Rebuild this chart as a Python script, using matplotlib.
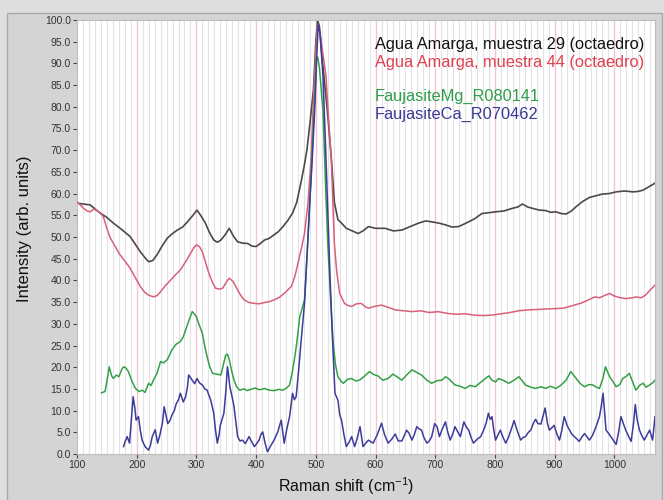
import matplotlib
matplotlib.use("Agg")
import matplotlib.pyplot as plt
from matplotlib.patches import Rectangle
from matplotlib.ticker import MultipleLocator, FormatStrFormatter

plt.rcParams['font.family'] = ['Liberation Sans', 'DejaVu Sans']

# ---------------- data ----------------
black_x = [100,110,122,136,150,161,175,189,206,214,220,227,234,242,251,260,268,277,285,293,
           301,308,315,322,329,335,341,348,355,362,369,377,386,393,400,407,414,422,430,437,
           445,453,461,468,475,480,485,490,496,500,503,506,510,515,520,526,531,537,543,551,
           561,571,580,588,600,616,630,644,658,672,684,694,706,717,728,739,747,756,767,778,
           790,801,815,829,838,846,855,863,874,885,893,902,911,919,928,936,947,958,969,980,
           991,1003,1017,1031,1040,1048,1058,1068]
black_y = [57.8,57.6,57.4,55.8,54.5,53.2,51.7,50.1,46.6,45.2,44.3,44.6,45.9,47.8,49.7,50.8,51.6,52.3,53.5,54.8,
           56.2,54.8,53.2,51.0,49.3,48.8,49.3,50.5,52.0,50.2,48.9,48.6,48.5,47.9,47.8,48.5,49.3,49.7,50.5,51.2,
           52.4,53.8,55.5,58.0,62.5,66.0,70.0,76.0,84.0,95.0,100.0,98.5,92.0,85.0,78.0,68.0,58.0,54.0,53.2,52.0,
           51.4,50.8,51.5,52.4,52.0,52.0,51.4,51.6,52.4,53.2,53.7,53.5,53.2,52.8,52.3,52.4,52.9,53.5,54.3,55.4,
           55.6,55.8,56.0,56.6,56.9,57.6,56.9,56.6,56.2,56.1,55.7,55.8,55.4,55.3,56.0,57.0,58.2,59.1,59.5,59.9,
           60.0,60.4,60.6,60.4,60.5,60.8,61.6,62.4]

red_x = [100,106,111,117,122,128,133,139,144,150,156,164,172,180,189,197,206,213,220,228,
         234,240,248,257,265,273,282,290,296,300,305,310,316,321,327,332,338,344,350,355,
         361,366,373,380,388,397,405,414,422,430,439,447,453,459,465,470,476,481,487,492,
         496,500,503,507,512,517,521,526,531,535,540,548,554,560,568,576,582,588,598,610,
         621,633,647,661,675,690,705,720,735,750,765,780,795,810,825,840,855,870,885,900,
         915,930,945,958,967,975,985,992,1000,1010,1020,1030,1036,1045,1052,1060,1068]
red_y = [58.1,57.3,56.6,56.0,55.8,56.4,56.2,55.5,54.7,52.0,49.7,47.8,45.9,44.5,42.8,40.8,38.6,37.3,36.6,36.2,
         36.5,37.4,38.8,40.1,41.3,42.4,44.3,46.2,47.6,48.2,47.8,46.6,43.8,41.6,39.5,38.2,38.0,38.2,39.6,40.5,
         39.8,38.6,36.8,35.5,34.9,34.7,34.6,34.9,35.1,35.5,36.1,37.0,37.8,38.6,41.0,43.9,47.5,50.8,58.0,68.0,
         82.0,93.0,99.0,97.0,92.0,87.0,78.0,67.7,48.5,42.0,37.0,34.7,34.2,34.0,34.6,34.7,34.0,33.6,34.0,34.3,
         33.8,33.2,33.0,32.8,33.0,32.6,32.8,32.4,32.2,32.3,32.0,31.9,32.0,32.3,32.6,33.0,33.2,33.3,33.4,33.5,
         33.6,34.2,34.8,35.6,36.2,36.0,36.6,37.0,36.4,36.0,35.8,36.0,36.2,36.0,36.6,37.8,38.9]

green_x = [141,147,151,154,158,161,166,170,175,178,182,186,192,198,204,209,214,220,224,228,
           234,240,245,251,255,259,266,273,278,282,288,293,297,300,305,310,314,318,322,327,
           334,341,345,349,352,355,359,363,367,372,380,385,391,398,406,414,422,430,438,445,
           451,456,460,464,468,473,477,481,487,492,497,501,503,506,509,512,516,520,525,529,
           533,537,542,546,553,560,567,574,582,590,597,604,612,621,629,636,644,652,661,669,
           677,686,694,703,711,717,722,728,733,742,750,758,767,775,784,790,795,801,806,815,
           823,832,840,846,851,860,868,877,885,893,902,910,919,927,936,943,950,957,964,970,
           975,981,985,989,992,998,1003,1009,1014,1020,1025,1030,1036,1042,1048,1053,1059,1064,1068]
green_y = [14.1,14.4,17.5,20.1,18.0,17.4,18.2,17.8,19.5,20.1,19.8,19.0,16.8,15.1,14.4,14.7,14.2,16.3,15.8,17.0,
           18.6,21.3,21.0,21.7,22.8,24.0,25.3,25.9,27.0,28.6,31.0,32.8,32.2,31.6,29.6,27.8,24.8,22.4,20.2,18.6,
           18.4,18.2,20.5,22.8,23.0,21.7,19.2,17.0,15.6,14.7,15.0,14.6,14.9,15.2,14.8,15.1,14.7,14.6,14.9,14.7,
           15.2,15.9,18.5,21.7,25.5,31.6,33.5,35.5,50.0,63.9,79.0,90.8,91.5,89.0,84.0,79.0,63.0,48.5,35.0,25.5,
           20.5,17.8,16.8,16.3,17.2,17.4,16.8,17.1,18.0,19.0,18.3,18.0,17.0,17.4,18.4,17.8,17.0,18.2,19.4,18.8,
           18.2,17.0,16.3,16.9,17.0,17.8,17.4,16.6,15.9,15.6,15.1,15.8,15.5,16.4,17.4,18.0,17.0,16.6,17.4,16.9,
           16.3,17.0,17.8,16.8,15.9,15.4,15.1,15.5,15.1,15.6,15.1,15.8,17.0,19.0,17.4,16.2,15.5,16.0,15.9,15.4,
           15.1,17.5,20.1,18.8,17.8,16.6,15.5,16.0,17.4,17.9,18.6,16.8,14.7,15.8,16.3,15.4,15.9,16.4,17.0]

blue_x = [178,181,184,188,191,194,197,199,203,206,209,214,220,223,226,231,235,239,243,246,
          249,252,256,259,263,266,270,273,278,282,285,287,290,293,297,301,305,310,314,318,
          321,324,329,332,335,338,340,343,346,349,352,354,356,360,363,366,369,373,377,382,
          388,392,397,401,405,408,411,415,419,424,430,436,442,445,447,451,456,461,464,467,
          471,475,481,485,489,494,498,501,504,507,510,512,516,520,524,527,530,532,537,540,
          543,547,551,556,560,565,569,574,579,583,588,596,603,610,615,621,627,633,638,644,
          648,652,656,661,665,669,673,677,681,686,690,694,699,703,707,711,717,721,725,729,
          733,738,742,748,752,756,760,764,770,776,781,785,789,792,795,798,801,805,809,813,
          818,823,828,832,837,843,847,851,856,860,864,868,872,877,881,884,888,891,895,899,
          904,908,912,916,921,925,929,933,937,941,946,950,954,958,963,967,971,975,978,981,
          984,986,990,994,999,1003,1007,1011,1015,1019,1024,1028,1032,1035,1038,1042,1046,1050,1055,1059,
          1064,1068]
blue_y = [1.7,3.0,4.0,2.5,8.0,13.2,10.5,7.8,8.6,5.5,3.2,1.7,0.9,2.0,4.0,5.6,2.5,4.5,7.1,10.9,
          9.0,7.0,7.8,9.0,10.0,11.5,12.5,14.0,12.0,13.2,15.5,18.2,17.6,17.0,16.2,17.4,16.4,15.9,15.0,14.7,
          13.5,12.4,9.4,5.5,2.5,4.5,6.6,8.0,9.4,14.0,20.1,18.0,15.5,13.0,10.9,7.5,4.0,3.0,3.2,2.4,
          4.0,3.0,1.7,2.4,3.2,4.5,5.1,2.5,0.5,1.8,3.2,5.0,7.8,4.5,2.5,5.5,8.6,14.0,12.5,13.2,
          19.0,25.5,34.7,45.0,56.0,68.0,79.0,90.0,99.0,97.0,91.0,87.0,72.0,56.0,40.0,29.3,20.0,14.0,12.4,9.0,
          7.8,4.5,1.7,2.8,4.0,1.7,3.5,6.3,1.7,2.4,3.2,2.5,4.5,7.1,4.5,2.5,3.4,4.6,3.0,3.0,
          4.2,5.5,4.8,3.2,4.5,6.3,5.8,5.5,3.8,2.5,3.0,4.0,7.0,6.3,4.0,5.5,7.4,5.0,3.2,4.5,
          6.3,5.0,4.0,7.4,6.2,5.5,3.8,2.5,3.4,4.0,5.5,7.0,9.4,8.0,8.6,5.5,3.2,4.4,5.5,4.0,
          2.5,4.0,6.0,7.7,5.5,3.2,3.8,4.0,5.0,5.5,7.0,8.0,7.0,6.9,9.0,10.6,7.0,5.5,6.0,6.6,
          4.5,3.2,5.5,8.6,6.5,5.5,4.5,4.0,3.5,2.9,4.0,4.7,4.0,3.2,4.2,5.5,7.0,8.6,11.0,14.0,
          9.0,5.5,4.8,4.0,3.0,2.2,5.0,8.6,7.0,5.5,4.0,2.9,7.0,11.4,8.0,5.5,4.2,3.2,4.5,5.5,
          3.2,8.6]

labels = ["Agua Amarga, muestra 29 (octaedro)",
          "Agua Amarga, muestra 44 (octaedro)",
          "FaujasiteMg_R080141",
          "FaujasiteCa_R070462"]
label_colors = ["#111111", "#e0404e", "#2e9e4a", "#3a3a96"]
line_colors = ["#4a4a4a", "#d8607a", "#33a048", "#3c3c9a"]

x_ticks = [100, 200, 300, 400, 500, 600, 700, 800, 900, 1000]

# ---------------- figure ----------------
fig = plt.figure(figsize=(6.64, 5.0), dpi=100, facecolor="#dedede")
fig.patches.append(Rectangle((7 / 664, -0.01), 655 / 664, 1 - 13 / 500 + 0.01,
                             transform=fig.transFigure, facecolor="#d4d4d4",
                             edgecolor="#a9a9a9", linewidth=1.0, zorder=-10))
ax = fig.add_axes([77 / 664, 1 - 454 / 500, (655 - 77) / 664, (454 - 20) / 500])
ax.set_facecolor("white")

ax.set_xlim(100, 1068)
ax.set_ylim(0, 100)

# grid: minor every 10, pink every 100
for gx in range(110, 1068, 10):
    if gx % 100 == 0:
        ax.axvline(gx, color="#f3c4d2", lw=1.0, zorder=0.6)
    else:
        ax.axvline(gx, color="#e3e3e6", lw=0.8, zorder=0.5)

ax.plot(black_x, black_y, color=line_colors[0], lw=1.2, zorder=2)
ax.plot(red_x, red_y, color=line_colors[1], lw=1.1, zorder=3)
ax.plot(green_x, green_y, color=line_colors[2], lw=1.1, zorder=4)
ax.plot(blue_x, blue_y, color=line_colors[3], lw=1.1, zorder=5)

ax.set_xticks(x_ticks)
ax.yaxis.set_major_locator(MultipleLocator(5))
ax.yaxis.set_major_formatter(FormatStrFormatter("%.1f"))
ax.tick_params(axis="both", labelsize=7.5, colors="#444444", length=3, width=0.8,
               labelcolor="#333333", pad=1.5)

for s in ax.spines.values():
    s.set_color("#bdbdbd")
    s.set_linewidth(0.8)

ax.set_ylabel("Intensity (arb. units)", fontsize=12, color="#111111")
ax.yaxis.set_label_coords(-0.078, 0.52)
ax.set_xlabel(r"Raman shift (cm$^{\mathregular{-1}}$)", fontsize=11.5, color="#111111")
ax.xaxis.set_label_coords(0.465, -0.05)

ys = [44, 63, 96, 114]
for lab, col, yy in zip(labels, label_colors, ys):
    fig.text(375 / 664, 1 - yy / 500, lab, color=col, fontsize=11.8, va="center", ha="left")

fig.savefig("out.png", dpi=100, facecolor=fig.get_facecolor())
